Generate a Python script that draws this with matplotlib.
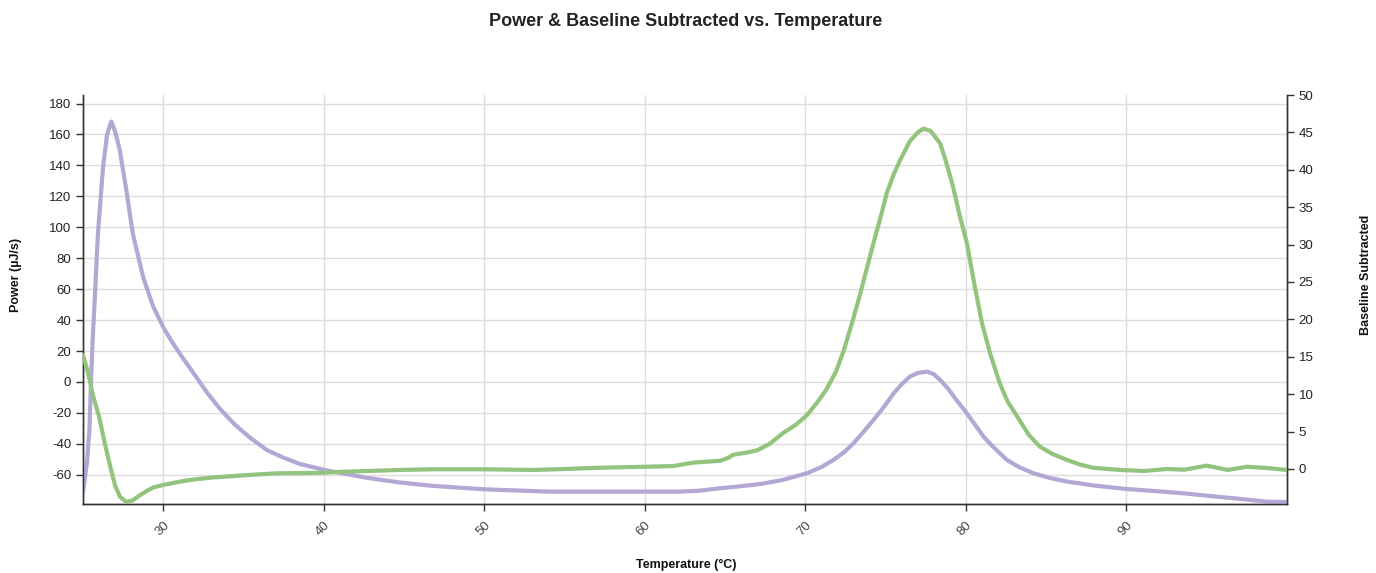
import matplotlib.pyplot as plt

plt.rcParams['font.family'] = ['Liberation Sans', 'DejaVu Sans']
plt.rcParams['axes.unicode_minus'] = False

# Power (left axis), purple curve
power_t = [25.0, 25.25, 25.4, 25.5, 25.6, 25.73, 25.93, 26.25, 26.5, 26.76, 27.0, 27.29,
           27.7, 28.1, 28.74, 29.36, 30.07, 30.6, 31.25, 32.0, 32.7, 33.5,
           34.4, 35.4, 36.45, 37.5, 38.5, 40.1, 42.7, 44.75, 46.8, 50, 54, 60, 62.2,
           63.4, 64.7, 65.9, 67.3, 68.6, 70.1, 71.0, 71.75, 72.4, 73.0, 73.6, 74.24,
           74.9, 75.5, 76.0, 76.5, 77.0, 77.6, 78.0, 78.4, 78.9, 79.4, 80.0, 80.5,
           81.1, 81.6, 82.1, 82.55, 83.3, 84.2, 85.2, 86.3, 88, 90, 92, 93.55, 95,
           96.7, 98.75, 100]
power = [-71.6, -52, -31, 0, 27, 53, 96, 139, 160, 168.3, 162, 150,
         124, 96, 68, 49, 34, 25, 15, 4, -6.5, -17,
         -27, -36, -44, -49, -53, -57, -62, -65, -67.2, -69.4, -70.9, -70.9, -70.9,
         -70.3, -68.7, -67.5, -65.8, -63.3, -59, -55, -50.4, -45.5, -39.6, -32.5, -24.6,
         -16, -7.3, -1.5, 3.4, 5.8, 6.7, 5, 1.3, -4.5, -11.6, -19.5, -26.7,
         -35.4, -41, -46, -50.4, -55, -59, -62, -64.4, -67, -69.2, -70.7, -72, -73.5,
         -75.2, -77.4, -77.6]

# Baseline subtracted (right axis), green curve
base_t = [25.0, 25.3, 25.6, 26.0, 26.35, 26.7, 27.0, 27.3, 27.7, 28.1, 28.55, 29.0,
          29.4, 30.07, 31.0, 31.9, 33.0, 34.4, 35.7, 37.07, 38.5, 40.1, 41.4, 42.7,
          44.75, 46.8, 50, 53, 55, 57.2, 60, 61.8, 63.0, 64.0, 64.7, 65.2, 65.5,
          66.35, 67.0, 67.8, 68.6, 69.4, 70.1, 70.7, 71.3, 71.9, 72.4, 72.9, 73.4,
          73.8, 74.24, 74.7, 75.07, 75.5, 75.9, 76.5, 77.0, 77.35, 77.8, 78.4, 78.8,
          79.2, 79.6, 80.06, 80.5, 81.0, 81.5, 82.1, 82.6, 83.2, 83.9, 84.6, 85.4,
          86.3, 87.1, 87.9, 89.6, 91.1, 92.5, 93.6, 95.0, 96.3, 97.5, 98.95, 100]
base = [15.2, 13, 10, 7, 3.5, 0.3, -2.2, -3.7, -4.4, -4.2, -3.5, -2.9,
        -2.45, -2.1, -1.7, -1.4, -1.15, -0.94, -0.75, -0.58, -0.55, -0.49, -0.35, -0.27,
        -0.13, -0.04, -0.04, -0.13, 0.0, 0.17, 0.3, 0.4, 0.85, 1.0, 1.1, 1.5, 1.9,
        2.2, 2.5, 3.4, 4.8, 5.9, 7.2, 8.8, 10.6, 13, 15.9, 19.5, 23.3,
        26.6, 30.2, 33.8, 36.9, 39.4, 41.3, 43.8, 45.0, 45.5, 45.2, 43.5, 40.8,
        37.7, 34, 30.2, 25, 19.5, 15.5, 11.5, 9, 7.0, 4.6, 3.0, 2,
        1.2, 0.6, 0.17, -0.13, -0.27, 0.0, -0.1, 0.45, -0.13, 0.3, 0.1, -0.13]

x_ticks = [30, 40, 50, 60, 70, 80, 90]
left_ticks = [-60, -40, -20, 0, 20, 40, 60, 80, 100, 120, 140, 160, 180]
right_ticks = [0, 5, 10, 15, 20, 25, 30, 35, 40, 45, 50]

W, H = 1376, 573
fig = plt.figure(figsize=(W / 100, H / 100), dpi=100)
ax = fig.add_axes([83 / W, 1 - 504 / H, (1287 - 83) / W, (504 - 95) / H])
ax2 = ax.twinx()

ax.plot(power_t, power, color='#b4a7d6', lw=3, solid_joinstyle='round',
        solid_capstyle='round', zorder=3)
ax2.plot(base_t, base, color='#93c47d', lw=3, solid_joinstyle='round',
         solid_capstyle='round', zorder=3)

ax.set_xlim(25, 100)
ax.set_ylim(-78.9, 185.5)
ax2.set_ylim(-4.68, 50)

ax.set_xticks(x_ticks)
ax.set_yticks(left_ticks)
ax2.set_yticks(right_ticks)
ax.set_xticklabels([str(t) for t in x_ticks], rotation=45, ha='right', va='top',
                   rotation_mode='anchor')

ax.grid(True, color='#dddddd', lw=1)
ax.set_axisbelow(True)

for a in (ax, ax2):
    a.spines['top'].set_visible(False)
    for s in ('left', 'right', 'bottom'):
        a.spines[s].set_color('#333333')
        a.spines[s].set_linewidth(1)
    a.tick_params(direction='out', length=5, width=1, color='#333333',
                  labelsize=9.5, labelcolor='#222222')
ax.tick_params(axis='x', pad=6, labelcolor='#444444')

# axis titles and chart title placed in figure pixels
fig.text(686 / W, 1 - 565 / H, 'Temperature (°C)', ha='center', va='center',
         fontsize=9, fontweight='bold', color='#111111')
fig.text(16 / W, 1 - 275 / H, 'Power (µJ/s)', ha='center', va='center',
         rotation=90, fontsize=9, fontweight='bold', color='#111111')
fig.text(1366 / W, 1 - 275 / H, 'Baseline Subtracted', ha='center', va='center',
         rotation=90, fontsize=9, fontweight='bold', color='#111111')
fig.text(686 / W, 1 - 21 / H, 'Power & Baseline Subtracted vs. Temperature',
         ha='center', va='center', fontsize=13, fontweight='bold', color='#222222')

fig.savefig('out.png', dpi=100)
